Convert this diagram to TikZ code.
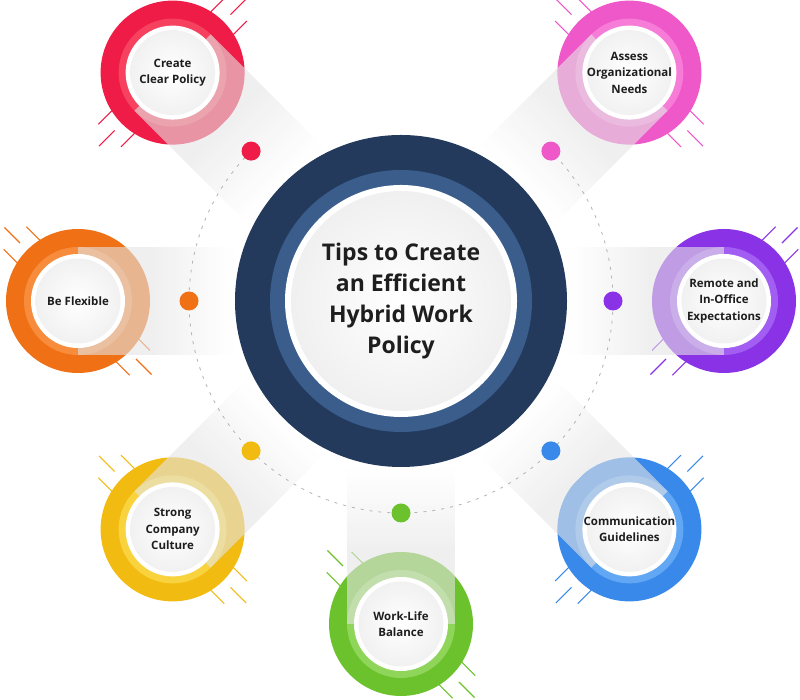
\documentclass[tikz,border=0pt]{standalone}
\usepackage{fontspec}
\setmainfont{Open Sans}
\definecolor{navy}{HTML}{233A5C}
\definecolor{navyin}{HTML}{3A5D8C}
\definecolor{bandc}{HTML}{E4E4E4}
\definecolor{redA}{HTML}{EE1C46}\definecolor{redB}{HTML}{F6425F}
\definecolor{pinkA}{HTML}{EE58C8}\definecolor{pinkB}{HTML}{F67CD8}
\definecolor{orA}{HTML}{F07016}\definecolor{orB}{HTML}{F78C3D}
\definecolor{puA}{HTML}{8A32E6}\definecolor{puB}{HTML}{A25DF2}
\definecolor{blA}{HTML}{3989EA}\definecolor{blB}{HTML}{62A7F4}
\definecolor{yeA}{HTML}{F1BB12}\definecolor{yeB}{HTML}{F9D33E}
\definecolor{grA}{HTML}{6CC22C}\definecolor{grB}{HTML}{8ED55A}
\definecolor{txtc}{HTML}{1E1E1E}
\tikzset{
  lbl/.style={font=\bfseries\fontsize{11.5}{16.5}\selectfont, align=center, text=txtc, inner sep=0pt},
  ttl/.style={font=\bfseries\fontsize{23}{31}\selectfont, align=center, text=txtc, inner sep=0pt},
  dashring/.style={draw=gray!60, line width=0.8pt, dash pattern=on 3pt off 6pt},
  deco/.style={line width=1.1pt},
  dotn/.style={circle, inner sep=0pt, minimum size=19pt},
}
\newcommand\tipcircle[6]{%
  \coordinate (#1) at ([shift={(#2:323)}]C);
  \begin{scope}[shift={(#1)}, rotate=#3]
    \foreach \s in {1,-1} {
      \draw[#4, deco] (\s*82,0) -- (\s*104,0);
      \draw[#4, deco] (\s*62,16) -- (\s*89,16);
      \draw[#4, deco] (\s*62,-16) -- (\s*89,-16);
    }
  \end{scope}
  \fill[#4] (#1) circle (72pt);
  \fill[#5] (#1) circle (54pt);
  \begin{scope}[shift={(#1)}, rotate=#2+180]
    \fill[bandc, opacity=.6] (0,-54) rectangle (72,54);
    \foreach \i in {0,...,19} {
      \pgfmathsetmacro\pc{60*(1-(\i+0.5)/20)}
      \fill[bandc!\pc!white] (72+\i*4.2-0.2,-54) rectangle (72+\i*4.2+4.4,54);
    }
  \end{scope}
  \fill[white] (#1) circle (47pt);
  \shade[inner color=white, outer color=gray!11] (#1) circle (42.5pt);
  \node[lbl] (#1t) at (#1) {#6};
  \coordinate (#1d) at ([shift={(#2:212)}]C);
}
\begin{document}
\begin{tikzpicture}[x=1pt, y=1pt]
\useasboundingbox (0,0) rectangle (800,700);
\coordinate (C) at (401,399);
\tipcircle{cp}{135}{45}{redA}{redB}{Create\\Clear Policy}
\tipcircle{an}{45}{135}{pinkA}{pinkB}{Assess\\Organizational\\Needs}
\tipcircle{bf}{180}{135}{orA}{orB}{Be Flexible}
\tipcircle{ro}{0}{45}{puA}{puB}{Remote and\\In-Office\\Expectations}
\tipcircle{sc}{225}{135}{yeA}{yeB}{Strong\\Company\\Culture}
\tipcircle{cg}{315}{45}{blA}{blB}{Communication\\Guidelines}
\tipcircle{wl}{270}{135}{grA}{grB}{Work-Life\\Balance}
% dashed ring
\draw[dashring] (cpd) arc[start angle=135, end angle=405, radius=212pt];
% dots
\node[dotn, fill=redA] (d1) at (cpd) {};
\node[dotn, fill=pinkA] (d2) at (and) {};
\node[dotn, fill=orA] (d3) at (bfd) {};
\node[dotn, fill=puA] (d4) at (rod) {};
\node[dotn, fill=yeA] (d5) at (scd) {};
\node[dotn, fill=blA] (d6) at (cgd) {};
\node[dotn, fill=grA] (d7) at (wld) {};
% main circle
\fill[navy] (C) circle (166pt);
\fill[navyin] (C) circle (131pt);
\fill[white] (C) circle (116pt);
\shade[inner color=white, outer color=gray!12] (C) circle (110pt);
\node[ttl] (title) at (C) {Tips to Create\\an Efficient\\Hybrid Work\\Policy};
\end{tikzpicture}
\end{document}
